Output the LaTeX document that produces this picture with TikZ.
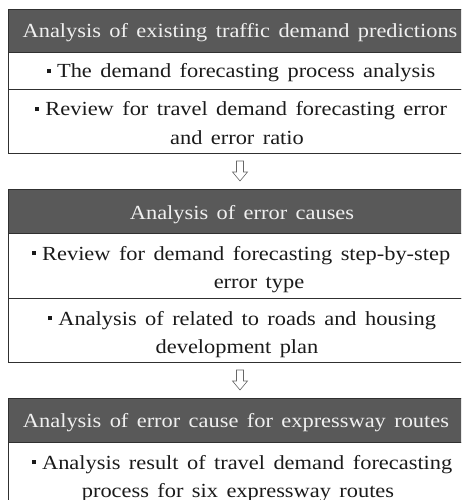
\documentclass[tikz,border=0pt]{standalone}
\usepackage{fontspec}
\setmainfont[FakeStretch=1.12, WordSpace=1.5]{Liberation Serif}
\usetikzlibrary{calc}

\definecolor{hdrfill}{HTML}{595959}
\definecolor{hdrtext}{HTML}{F0F0F0}
\definecolor{frame}{HTML}{303030}
\definecolor{bodytext}{HTML}{1A1A1A}

% small square bullet in front of each item
\newcommand\itembullet{\rule[0.24em]{0.2em}{0.2em}\hspace{0.32em}}

\begin{document}
\begin{tikzpicture}[x=1pt, y=-1pt,
  panel/.style={draw=frame, line width=0.9pt, minimum width=463pt,
                inner sep=0pt, outer sep=0pt, anchor=north},
  header/.style={panel, fill=hdrfill},
  hdrlabel/.style={anchor=base, text=hdrtext, inner sep=0pt,
                   font=\fontsize{20}{28}\selectfont},
  rowlabel/.style={anchor=base, text=bodytext, inner sep=0pt,
                   font=\fontsize{20}{28}\selectfont},
  flowarrow/.style={draw=black!60, line width=0.6pt, fill=white,
                    line join=miter}]

\useasboundingbox (0,0) rectangle (461,500);
\clip (0,0) rectangle (461,500);

% ---- stage 1 ----
\node[header, minimum height=43pt] (h1) at (240,9) {};
\node[panel, minimum height=37pt] (r11) at (h1.south) {};
\node[panel, minimum height=64pt] (r12) at (r11.south) {};

% ---- stage 2 ----
\node[header, minimum height=44pt] (h2) at (240,189) {};
\node[panel, minimum height=65pt] (r21) at (h2.south) {};
\node[panel, minimum height=64pt] (r22) at (r21.south) {};

% ---- stage 3 ----
\node[header, minimum height=44pt] (h3) at (240,398) {};
\node[panel, minimum height=72pt] (r31) at (h3.south) {};

% ---- texts ----
\node[hdrlabel] (t1) at (240,38) {Analysis of existing traffic demand predictions};
\node[rowlabel] (t11) at (241,78) {\itembullet The demand forecasting process analysis};
\node[rowlabel] (t12a) at (241,116) {\itembullet Review for travel demand forecasting error};
\node[rowlabel] (t12b) at (237,144) {and error ratio};

\node[hdrlabel] (t2) at (242,219) {Analysis of error causes};
\node[rowlabel] (t21a) at (241,260) {\itembullet Review for demand forecasting step-by-step};
\node[rowlabel] (t21b) at (259,288) {error type};
\node[rowlabel] (t22a) at (242,325) {\itembullet Analysis of related to roads and housing};
\node[rowlabel] (t22b) at (237,353) {development plan};

\node[hdrlabel] (t3) at (236,427) {Analysis of error cause for expressway routes};
\node[rowlabel] (t31a) at (242,469) {\itembullet Analysis result of travel demand forecasting};
\node[rowlabel] (t31b) at (238,497) {process for six expressway routes};

% ---- hollow arrows between stages ----
\path (r12.south) -- (h2.north) coordinate[midway] (a1);
\path (r22.south) -- (h3.north) coordinate[midway] (a2);
\foreach \a in {a1,a2}{
  \draw[flowarrow] ($(\a)+(-3.5,-10)$) -- ($(\a)+(3.5,-10)$) -- ($(\a)+(3.5,1)$)
    -- ($(\a)+(7.5,1)$) -- ($(\a)+(0,10)$) -- ($(\a)+(-7.5,1)$)
    -- ($(\a)+(-3.5,1)$) -- cycle;
}
\end{tikzpicture}
\end{document}
